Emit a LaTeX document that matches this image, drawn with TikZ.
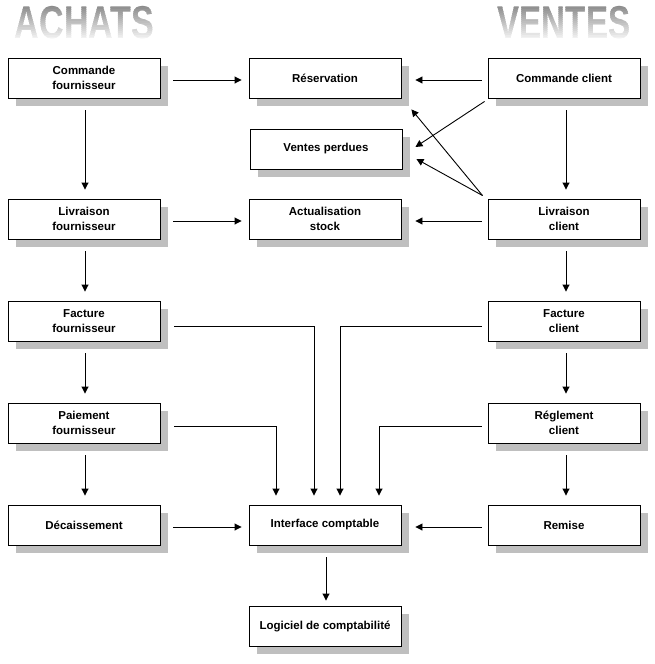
\documentclass[tikz,border=0pt]{standalone}
\usepackage{fontspec}
\setmainfont{Liberation Sans}
\usetikzlibrary{arrows.meta,shadows}
\tikzset{
 box/.style={draw=black, line width=0.9pt, fill=white, minimum width=152pt, minimum height=40pt, inner sep=0pt, align=center,
   font=\bfseries\fontsize{11.5}{15}\selectfont,
   general shadow={fill=black!25, draw=none, shadow xshift=8pt, shadow yshift=-8pt}},
 arr/.style={draw, line width=0.9pt, -{Triangle[length=7pt,width=7pt]}},
 hdr/.style={font=\bfseries\fontsize{46}{46}\selectfont, inner sep=0pt, anchor=base}
}
\begin{document}
\begin{tikzpicture}[x=1pt,y=-1pt]
\useasboundingbox (0,0) rectangle (655,664);
% headers with vertical gradient
\foreach \i in {0,...,18}{
  \pgfmathsetmacro\c{48-45*\i/18}
  \begin{scope}
    \clip (0,{3+2*\i}) rectangle (655,{5+2*\i});
    \node[hdr, text=black!\c] (achats\i) at (84.5,38) {\scalebox{0.74}[1]{ACHATS}};
    \node[hdr, text=black!\c] (ventes\i) at (564,38) {\scalebox{0.72}[1]{VENTES}};
  \end{scope}
}
% boxes
\node[box] (cf) at (84,78) {Commande\\fournisseur};
\node[box] (res) at (325,78) {Réservation};
\node[box] (cc) at (564,78) {Commande client};
\node[box] (vp) at (326,149) {Ventes perdues};
\node[box] (lf) at (84,219) {Livraison\\fournisseur};
\node[box] (as) at (325,219) {Actualisation\\stock};
\node[box] (lc) at (564,219) {Livraison\\client};
\node[box] (ff) at (84,321) {Facture\\fournisseur};
\node[box] (fc) at (564,321) {Facture\\client};
\node[box] (pf) at (84,423) {Paiement\\fournisseur};
\node[box] (rc) at (564,423) {Réglement\\client};
\node[box] (dec) at (84,525) {Décaissement};
\node[box] (ic) at (325,525) {Interface comptable};
\node[box] (rem) at (564,525) {Remise};
\node[box] (log) at (325,626) {Logiciel de comptabilité};
% horizontal arrows
\draw[arr] ([xshift=13pt,yshift=-2pt]cf.east) -- ([xshift=-7pt,yshift=-2pt]res.west);
\draw[arr] ([xshift=13pt,yshift=-2pt]lf.east) -- ([xshift=-7pt,yshift=-2pt]as.west);
\draw[arr] ([xshift=13pt,yshift=-2pt]dec.east) -- ([xshift=-7pt,yshift=-2pt]ic.west);
\draw[arr] ([xshift=-6pt,yshift=-2pt]cc.west) -- ([xshift=14pt,yshift=-2pt]res.east);
\draw[arr] ([xshift=-6pt,yshift=-2pt]lc.west) -- ([xshift=14pt,yshift=-2pt]as.east);
\draw[arr] ([xshift=-6pt,yshift=-2pt]rem.west) -- ([xshift=14pt,yshift=-2pt]ic.east);
% vertical arrows left
\draw[arr] ([xshift=1pt,yshift=-12pt]cf.south) -- ([xshift=1pt,yshift=9pt]lf.north);
\draw[arr] ([xshift=1pt,yshift=-12pt]lf.south) -- ([xshift=1pt,yshift=9pt]ff.north);
\draw[arr] ([xshift=1pt,yshift=-12pt]ff.south) -- ([xshift=1pt,yshift=9pt]pf.north);
\draw[arr] ([xshift=1pt,yshift=-12pt]pf.south) -- ([xshift=1pt,yshift=9pt]dec.north);
% vertical arrows right
\draw[arr] ([xshift=2pt,yshift=-12pt]cc.south) -- ([xshift=2pt,yshift=9pt]lc.north);
\draw[arr] ([xshift=2pt,yshift=-12pt]lc.south) -- ([xshift=2pt,yshift=9pt]fc.north);
\draw[arr] ([xshift=2pt,yshift=-12pt]fc.south) -- ([xshift=2pt,yshift=9pt]rc.north);
\draw[arr] ([xshift=2pt,yshift=-12pt]rc.south) -- ([xshift=2pt,yshift=9pt]rem.north);
% interface -> logiciel
\draw[arr] ([xshift=1pt,yshift=-12pt]ic.south) -- ([xshift=1pt,yshift=5pt]log.north);
% elbows into interface
\draw[arr] ([xshift=14pt,yshift=-5pt]ff.east) -| ([xshift=-11pt,yshift=9pt]ic.north);
\draw[arr] ([xshift=14pt,yshift=-3pt]pf.east) -| ([xshift=-49pt,yshift=9pt]ic.north);
\draw[arr] ([xshift=-6pt,yshift=-5pt]fc.west) -| ([xshift=15pt,yshift=9pt]ic.north);
\draw[arr] ([xshift=-6pt,yshift=-3pt]rc.west) -| ([xshift=54pt,yshift=9pt]ic.north);
% diagonals
\draw[arr] ([xshift=-3pt,yshift=-3pt]cc.south west) -- ([xshift=13pt,yshift=2pt]vp.east);
\draw[arr] ([xshift=-5pt,yshift=3pt]lc.north west) -- ([xshift=10pt,yshift=-11pt]res.south east);
\draw[arr] ([xshift=-5pt,yshift=3pt]lc.north west) -- ([xshift=14pt,yshift=-10pt]vp.east);
\end{tikzpicture}
\end{document}
